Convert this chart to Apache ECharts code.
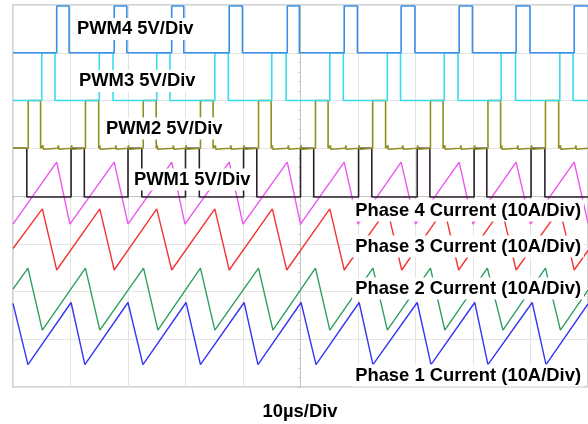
<!DOCTYPE html>
<html><head><meta charset="utf-8">
<script src="https://cdn.jsdelivr.net/npm/echarts@6/dist/echarts.min.js"></script>
<style>html,body{margin:0;padding:0;background:#fff}#c{width:588px;height:424px}</style>
</head><body><div id="c"></div>
<script>
// Time in µs (10 µs/div, 10 divisions); level in divisions (0 = bottom, 8 = top)
const pwm1Rise = [10.1, 20.0, 30.0, 40.1, 50.0, 60.1, 70.3, 80.2, 90.1];
const pwm1Fall = [2.4, 12.4, 22.4, 32.4, 42.4, 52.3, 62.4, 72.5, 82.4, 92.5];
const pwm2Rise = [2.65, 12.6, 22.65, 32.6, 42.7, 52.6, 62.55, 72.6, 82.6, 92.6];
const pwm2Fall = [4.8, 14.9, 24.9, 34.8, 44.9, 54.8, 64.8, 74.8, 84.8, 94.9];
const pwm2Spikes = [5.2, 7.9, 10.2, 15.1, 17.9, 20.1, 25.1, 27.9, 30.1, 35.2, 37.9, 40.2, 45.1, 47.9, 50.1, 55.2, 57.9, 60.2, 65.2, 67.8, 70.4, 75.1, 77.9, 80.3, 85.0, 87.8, 90.2, 95.2, 97.9];
const pwm3Rise = [5.0, 15.0, 25.0, 35.1, 45.0, 55.1, 65.1, 75.0, 84.9, 95.1];
const pwm3Fall = [7.3, 17.4, 27.3, 37.45, 47.5, 57.45, 67.4, 77.4, 87.4, 97.4];
const pwm4Rise = [7.6, 17.6, 27.6, 37.6, 47.7, 57.6, 67.5, 77.6, 87.5, 97.6];
const pwm4Fall = [9.75, 19.8, 29.7, 39.9, 49.8, 59.9, 69.9, 79.9, 89.9];
const pwmLevels = { pwm1: [3.98, 5.0], pwm2: [5.0, 6.0], pwm3: [6.0, 7.0], pwm4: [7.0, 7.98] };

const ph1T = [0, 2.6, 10.1, 12.5, 20.0, 22.6, 30.1, 32.6, 40.2, 42.6, 50.1, 52.7, 60.2, 62.6, 70.3, 72.7, 80.3, 82.6, 90.3, 92.7, 100];
const ph1V = [1.75, 0.47, 1.77, 0.47, 1.77, 0.47, 1.77, 0.47, 1.77, 0.47, 1.77, 0.47, 1.77, 0.47, 1.77, 0.47, 1.77, 0.47, 1.77, 0.47, 1.74];
const ph2T = [0, 2.6, 5.1, 12.6, 15.1, 22.7, 25.2, 32.6, 35.1, 42.7, 45.2, 52.6, 55.1, 62.6, 65.1, 72.6, 75.1, 82.5, 85.2, 92.6, 95.2, 100];
const ph2V = [2.05, 2.49, 1.19, 2.49, 1.19, 2.49, 1.19, 2.49, 1.19, 2.49, 1.19, 2.49, 1.19, 2.49, 1.19, 2.49, 1.19, 2.49, 1.19, 2.49, 1.19, 2.03];
const ph3T = [0, 5.1, 7.6, 15.1, 17.6, 25.0, 27.6, 35.1, 37.6, 45.1, 47.6, 55.1, 57.6, 65.1, 67.6, 75.0, 77.5, 85.0, 87.5, 95.1, 97.6, 100];
const ph3V = [2.9, 3.73, 2.45, 3.73, 2.45, 3.73, 2.45, 3.73, 2.45, 3.73, 2.45, 3.73, 2.45, 3.73, 2.45, 3.73, 2.45, 3.73, 2.45, 3.73, 2.45, 2.86];
const ph4T = [0, 7.6, 9.9, 17.6, 20.0, 27.6, 29.9, 37.6, 40.0, 47.7, 50.0, 57.6, 60.0, 67.5, 70.0, 77.6, 80.0, 87.5, 90.0, 97.6, 100];
const ph4V = [3.41, 4.71, 3.41, 4.71, 3.41, 4.71, 3.41, 4.71, 3.41, 4.71, 3.41, 4.71, 3.41, 4.71, 3.41, 4.71, 3.41, 4.71, 3.41, 4.71, 3.43];

const labels = ['PWM4 5V/Div', 'PWM3 5V/Div', 'PWM2 5V/Div', 'PWM1 5V/Div',
  'Phase 4 Current (10A/Div)', 'Phase 3 Current (10A/Div)', 'Phase 2 Current (10A/Div)', 'Phase 1 Current (10A/Div)'];
const xLabel = '10µs/Div';

function zip(t, v) { return t.map((x, i) => [x, v[i]]); }
function stepLine(rises, falls, lv, spikes) {
  const low = lv[0], high = lv[1];
  const ev = [];
  rises.forEach(t => ev.push([t, 'r']));
  falls.forEach(t => ev.push([t, 'f']));
  (spikes || []).forEach(t => ev.push([t, 's']));
  ev.sort((a, b) => a[0] - b[0]);
  const firstEdge = ev.find(e => e[1] !== 's');
  let level = firstEdge && firstEdge[1] === 'f' ? high : low;
  const pts = [[0, level]];
  ev.forEach(([t, k]) => {
    if (k === 'r') { pts.push([t, low], [t, high]); level = high; }
    else if (k === 'f') { pts.push([t, high], [t, low]); level = low; }
    else { pts.push([t - 0.12, level], [t, level + 0.06], [t + 0.06, level - 0.02], [t + 0.14, level]); }
  });
  pts.push([100, level]);
  return pts;
}

const chart = echarts.init(document.getElementById('c'));
const lineS = (name, data, color, w, z) => ({
  name, type: 'line', data, showSymbol: false, symbol: 'none', animation: false,
  lineStyle: { color, width: w }, z, silent: true, xAxisIndex: 0, yAxisIndex: 0
});
const font = 'bold 18.4px "Liberation Sans", Arial, sans-serif';
const lab = (text, x, y, align) => ({
  type: 'text', x, y, z: 100,
  style: { text, font, fill: '#000', align, verticalAlign: 'middle', backgroundColor: '#fff', padding: [2, 3] }
});

chart.setOption({
  animation: false,
  backgroundColor: '#fff',
  grid: [
    { left: 13, right: 0, top: 5, bottom: 37, show: true, borderColor: '#d2d2d2', borderWidth: 2 },
    { left: 13, right: 0, top: 5, bottom: 37 }
  ],
  xAxis: [
    { type: 'value', gridIndex: 0, min: 0, max: 100, interval: 10,
      axisLine: { show: false }, axisTick: { show: false }, axisLabel: { show: false },
      splitLine: { show: true, lineStyle: { color: '#e3e3e3', width: 1 } } },
    { type: 'value', gridIndex: 1, min: -5, max: 5, interval: 1,
      axisLine: { show: true, onZero: true, lineStyle: { color: '#c4c4c4', width: 1 } },
      axisTick: { show: true, length: 3, lineStyle: { color: '#c4c4c4' } },
      minorTick: { show: true, splitNumber: 5, length: 2, lineStyle: { color: '#c8c8c8' } },
      axisLabel: { show: false }, splitLine: { show: false } }
  ],
  yAxis: [
    { type: 'value', gridIndex: 0, min: 0, max: 8, interval: 1,
      axisLine: { show: false }, axisTick: { show: false }, axisLabel: { show: false },
      splitLine: { show: true, lineStyle: { color: '#e3e3e3', width: 1 } } },
    { type: 'value', gridIndex: 1, min: -4, max: 4, interval: 1,
      axisLine: { show: true, onZero: true, lineStyle: { color: '#c4c4c4', width: 1 } },
      axisTick: { show: true, length: 3, lineStyle: { color: '#c4c4c4' } },
      minorTick: { show: true, splitNumber: 5, length: 2, lineStyle: { color: '#c8c8c8' } },
      axisLabel: { show: false }, splitLine: { show: false } }
  ],
  series: [
    lineS('Phase 1 Current', zip(ph1T, ph1V), '#3535f5', 1.4, 3),
    lineS('Phase 2 Current', zip(ph2T, ph2V), '#2f9e5f', 1.4, 3),
    lineS('Phase 3 Current', zip(ph3T, ph3V), '#f53535', 1.4, 3),
    lineS('Phase 4 Current', zip(ph4T, ph4V), '#ee55ee', 1.4, 3),
    lineS('PWM1', stepLine(pwm1Rise, pwm1Fall, pwmLevels.pwm1), '#2e1f2e', 1.6, 4),
    lineS('PWM2', stepLine(pwm2Rise, pwm2Fall, pwmLevels.pwm2, pwm2Spikes), '#8f8f22', 1.6, 5),
    lineS('PWM3', stepLine(pwm3Rise, pwm3Fall, pwmLevels.pwm3), '#38dcee', 1.6, 6),
    lineS('PWM4', stepLine(pwm4Rise, pwm4Fall, pwmLevels.pwm4), '#3a8ee8', 1.6, 7)
  ],
  graphic: [
    lab(labels[0], 74, 29, 'left'),
    lab(labels[1], 76, 81, 'left'),
    lab(labels[2], 103, 128.5, 'left'),
    lab(labels[3], 131, 179.5, 'left'),
    lab(labels[4], 584, 210.5, 'right'),
    lab(labels[5], 584, 246.5, 'right'),
    lab(labels[6], 584, 288.5, 'right'),
    lab(labels[7], 584, 375.5, 'right'),
    { type: 'text', x: 300, y: 411.5, z: 100,
      style: { text: xLabel, font, fill: '#000', align: 'center', verticalAlign: 'middle' } }
  ]
});
</script></body></html>
